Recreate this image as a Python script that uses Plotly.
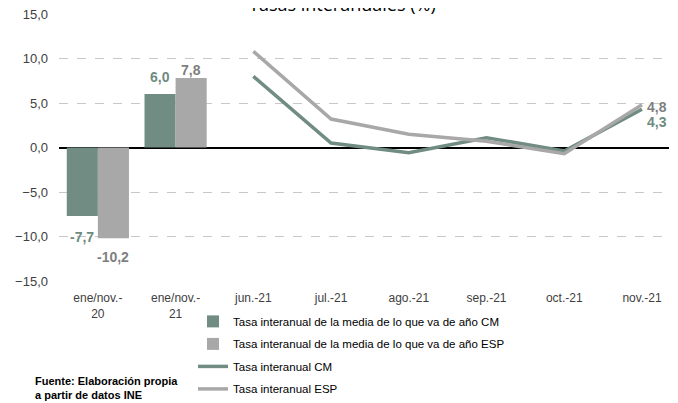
import plotly.graph_objects as go

categories = ["ene/nov.-<br>20", "ene/nov.-<br>21", "jun.-21", "jul.-21", "ago.-21", "sep.-21", "oct.-21", "nov.-21"]
bar_cats = categories[:2]
line_cats = categories[2:]

bar_cm = [-7.7, 6.0]
bar_esp = [-10.2, 7.8]
line_cm = [8.0, 0.5, -0.6, 1.1, -0.4, 4.3]
line_esp = [10.8, 3.2, 1.5, 0.7, -0.7, 4.8]

names = [
    "Tasa interanual de la media de lo que va de año CM",
    "Tasa interanual de la media de lo que va de año ESP",
    "Tasa interanual CM",
    "Tasa interanual ESP",
]

C_CM = "#718c82"
C_ESP = "#a8a8a8"
L_CM = "#6f8b80"
L_ESP = "#7f7f7f"

fig = go.Figure()
fig.add_trace(go.Bar(x=bar_cats, y=bar_cm, name=names[0], marker_color=C_CM,
                     marker_line_width=0, legendgroup="a"))
fig.add_trace(go.Bar(x=bar_cats, y=bar_esp, name=names[1], marker_color=C_ESP,
                     marker_line_width=0, legendgroup="b"))
fig.add_trace(go.Scatter(x=line_cats, y=line_cm, name=names[2], mode="lines",
                         line=dict(color=C_CM, width=3.5), legendgroup="c"))
fig.add_trace(go.Scatter(x=line_cats, y=line_esp, name=names[3], mode="lines",
                         line=dict(color=C_ESP, width=3.5), legendgroup="d"))

lab_font = dict(family="Liberation Sans, Arial", size=14)
def fmt(v):
    return "<b>" + f"{v:.1f}".replace(".", ",") + "</b>"

ann = []
ann.append(dict(x=bar_cats[0], y=bar_cm[0], text=fmt(bar_cm[0]), xshift=-16, yshift=-21,
                font=dict(color=L_CM, **lab_font)))
ann.append(dict(x=bar_cats[0], y=bar_esp[0], text=fmt(bar_esp[0]), xshift=15, yshift=-19,
                font=dict(color=L_ESP, **lab_font)))
ann.append(dict(x=bar_cats[1], y=bar_cm[1], text=fmt(bar_cm[1]), xshift=-16, yshift=17,
                font=dict(color=L_CM, **lab_font)))
ann.append(dict(x=bar_cats[1], y=bar_esp[1], text=fmt(bar_esp[1]), xshift=15, yshift=8,
                font=dict(color=L_ESP, **lab_font)))
ann.append(dict(x=line_cats[-1], y=line_esp[-1], text=fmt(line_esp[-1]), xshift=15, yshift=-2,
                font=dict(color=L_ESP, **lab_font)))
ann.append(dict(x=line_cats[-1], y=line_cm[-1], text=fmt(line_cm[-1]), xshift=15, yshift=-13,
                font=dict(color=L_CM, **lab_font)))
for a in ann:
    a.update(showarrow=False, xref="x", yref="y")

ann.append(dict(text="<b>Fuente: Elaboración propia<br>a partir de datos INE</b>",
                xref="paper", yref="paper", x=-0.042, y=-0.346, xanchor="left", yanchor="top",
                align="left", showarrow=False,
                font=dict(family="Liberation Sans Narrow, Liberation Sans, Arial", size=11, color="#000000")))
ann.append(dict(text="Tasas interanuales (%)", xref="paper", yref="paper",
                x=0.465, y=1.0, xanchor="center", yanchor="bottom", yshift=-4, showarrow=False,
                font=dict(family="Open Sans, Liberation Sans", size=18, color="#000000")))

fig.update_layout(
    width=678, height=403,
    margin=dict(l=51, r=17, t=6, b=130, autoexpand=False),
    paper_bgcolor="white", plot_bgcolor="white",
    barmode="group", bargap=0.2, bargroupgap=0,
    annotations=ann,
    showlegend=True,
    legend=dict(x=0.2197, xanchor="left", y=-0.097, yanchor="top",
                font=dict(family="Liberation Sans Narrow, Liberation Sans, Arial", size=11.5, color="#000000"),
                tracegroupgap=3.5, itemwidth=30, bgcolor="rgba(0,0,0,0)"),
    font=dict(family="Liberation Sans, Arial", size=12, color="#404040"),
    separators=",.",
)
fig.update_xaxes(type="category", categoryorder="array", categoryarray=categories,
                 showgrid=False, showline=False, ticks="", zeroline=False, automargin=False,
                 ticklabelstandoff=8,
                 tickfont=dict(size=12, color="#404040"))
fig.update_yaxes(range=[-15, 15], dtick=5, tickformat=".1f", showgrid=True,
                 gridcolor="#c8c8c8", griddash="dash", gridwidth=1, automargin=False,
                 zeroline=True, zerolinecolor="#000000", zerolinewidth=1.5,
                 showline=False, ticks="", ticklabelstandoff=10, ticklabeloverflow="allow",
                 tickfont=dict(size=13, color="#404040"))

fig.write_html("out.html")
